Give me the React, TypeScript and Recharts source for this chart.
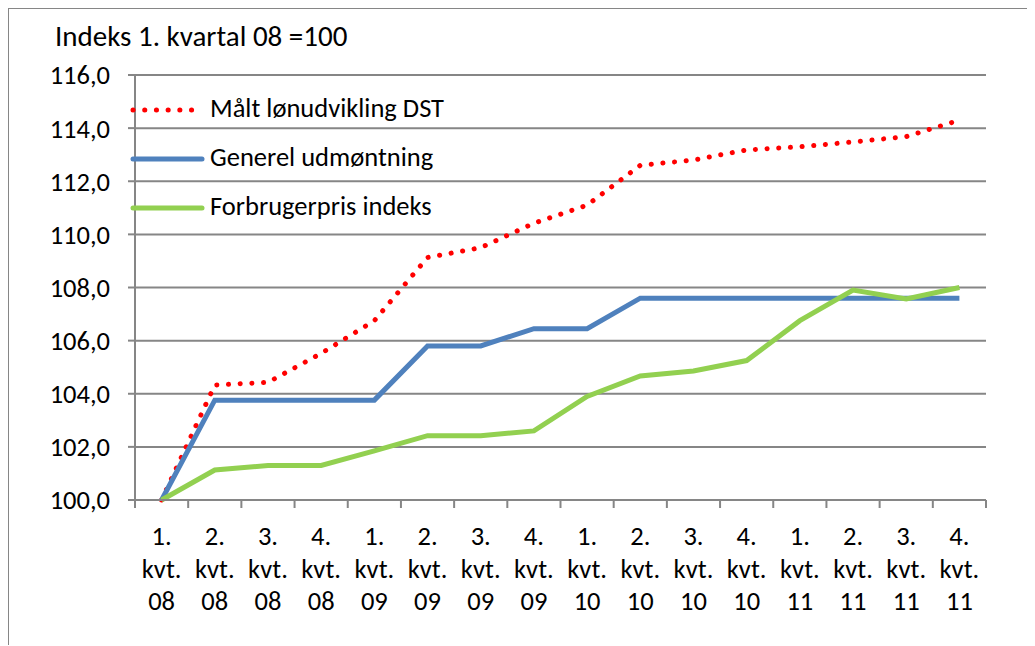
import React from "react";
import { LineChart, Line, XAxis, YAxis, CartesianGrid } from "recharts";

const categories = [
  "1. kvt. 08", "2. kvt. 08", "3. kvt. 08", "4. kvt. 08",
  "1. kvt. 09", "2. kvt. 09", "3. kvt. 09", "4. kvt. 09",
  "1. kvt. 10", "2. kvt. 10", "3. kvt. 10", "4. kvt. 10",
  "1. kvt. 11", "2. kvt. 11", "3. kvt. 11", "4. kvt. 11",
];
const maaltLon = [100.0, 104.33, 104.43, 105.52, 106.75, 109.13, 109.5, 110.42, 111.1, 112.6, 112.8, 113.18, 113.3, 113.48, 113.68, 114.3];
const generel = [100.0, 103.76, 103.76, 103.76, 103.76, 105.8, 105.8, 106.45, 106.45, 107.6, 107.6, 107.6, 107.6, 107.6, 107.6, 107.6];
const forbruger = [100.0, 101.13, 101.3, 101.3, 101.85, 102.42, 102.42, 102.6, 103.9, 104.67, 104.86, 105.25, 106.75, 107.9, 107.57, 108.0];
const yTicks = [100, 102, 104, 106, 108, 110, 112, 114, 116];
const seriesNames = ["Målt lønudvikling DST", "Generel udmøntning", "Forbrugerpris indeks"];
const seriesColors = ["#FF0000", "#4F81BD", "#92D050"];
const title = "Indeks 1. kvartal 08 =100";

const data = categories.map((c, i) => ({
  cat: c,
  maalt: maaltLon[i],
  generel: generel[i],
  forbruger: forbruger[i],
}));

const FONT = "Carlito, Calibri, 'Open Sans', 'Liberation Sans', sans-serif";
const GRID = "#868686";
const RED_DASH = "0.1 11.6";

const XTick = (props: any) => {
  const { x, y, payload, index, visibleTicksCount } = props;
  const off = payload.offset || 0;
  const parts = String(payload.value).split(" ");
  const isLast = index === (visibleTicksCount ?? categories.length) - 1;
  return (
    <g>
      <line x1={x - off} x2={x - off} y1={y - 8} y2={y} stroke={GRID} strokeWidth={2} />
      {isLast && <line x1={x + off} x2={x + off} y1={y - 8} y2={y} stroke={GRID} strokeWidth={2} />}
      {parts.map((p, i) => (
        <text key={i} x={x} y={y + 37 + i * 32.5} textAnchor="middle" fontSize={26.5} fill="#000" fontFamily={FONT}>
          {p}
        </text>
      ))}
    </g>
  );
};

const legendDash = [RED_DASH, undefined, undefined];

export default function App() {
  return (
    <div style={{ position: "relative", width: 1027, height: 638, marginLeft: -1, marginTop: -1 }}>
      <div style={{ position: "absolute", left: 0, top: 0, width: 1040, height: 660, borderLeft: `2px solid ${GRID}`, borderTop: `2px solid ${GRID}`, boxSizing: "border-box" }} />
      <LineChart width={1028} height={639} data={data} margin={{ top: 68, right: 49, bottom: 0, left: 0 }} style={{ position: "absolute", left: 0, top: 0 }}>
        <CartesianGrid vertical={false} stroke={GRID} strokeWidth={2} />
        <XAxis
          dataKey="cat"
          scale="band"
          interval={0}
          height={146}
          tickLine={false}
          axisLine={{ stroke: GRID, strokeWidth: 2 }}
          tick={<XTick />}
        />
        <YAxis
          domain={[100, 116]}
          ticks={yTicks}
          width={128}
          tickFormatter={(v: number) => v.toFixed(1).replace(".", ",")}
          tick={{ fontSize: 26.5, fill: "#000", fontFamily: FONT }}
          tickLine={{ stroke: GRID, strokeWidth: 2 }}
          tickSize={7}
          tickMargin={18}
          axisLine={{ stroke: GRID, strokeWidth: 2 }}
        />
        <Line dataKey="maalt" name={seriesNames[0]} stroke={seriesColors[0]} strokeWidth={5} strokeDasharray={RED_DASH} strokeLinecap="round" dot={false} isAnimationActive={false} />
        <Line dataKey="generel" name={seriesNames[1]} stroke={seriesColors[1]} strokeWidth={5} dot={false} isAnimationActive={false} />
        <Line dataKey="forbruger" name={seriesNames[2]} stroke={seriesColors[2]} strokeWidth={5} dot={false} isAnimationActive={false} />
      </LineChart>
      <svg width={1028} height={260} style={{ position: "absolute", left: 0, top: 0, pointerEvents: "none" }}>
        <text x={48} y={39} fontSize={29} fill="#000" fontFamily={FONT}>{title}</text>
        {seriesNames.map((n, i) => (
          <g key={n}>
            <line x1={126} x2={195} y1={103 + i * 49} y2={103 + i * 49} stroke={seriesColors[i]} strokeWidth={5} strokeLinecap="round" strokeDasharray={legendDash[i]} />
            <text x={203} y={110 + i * 49} fontSize={26.5} fill="#000" fontFamily={FONT}>{n}</text>
          </g>
        ))}
      </svg>
    </div>
  );
}
